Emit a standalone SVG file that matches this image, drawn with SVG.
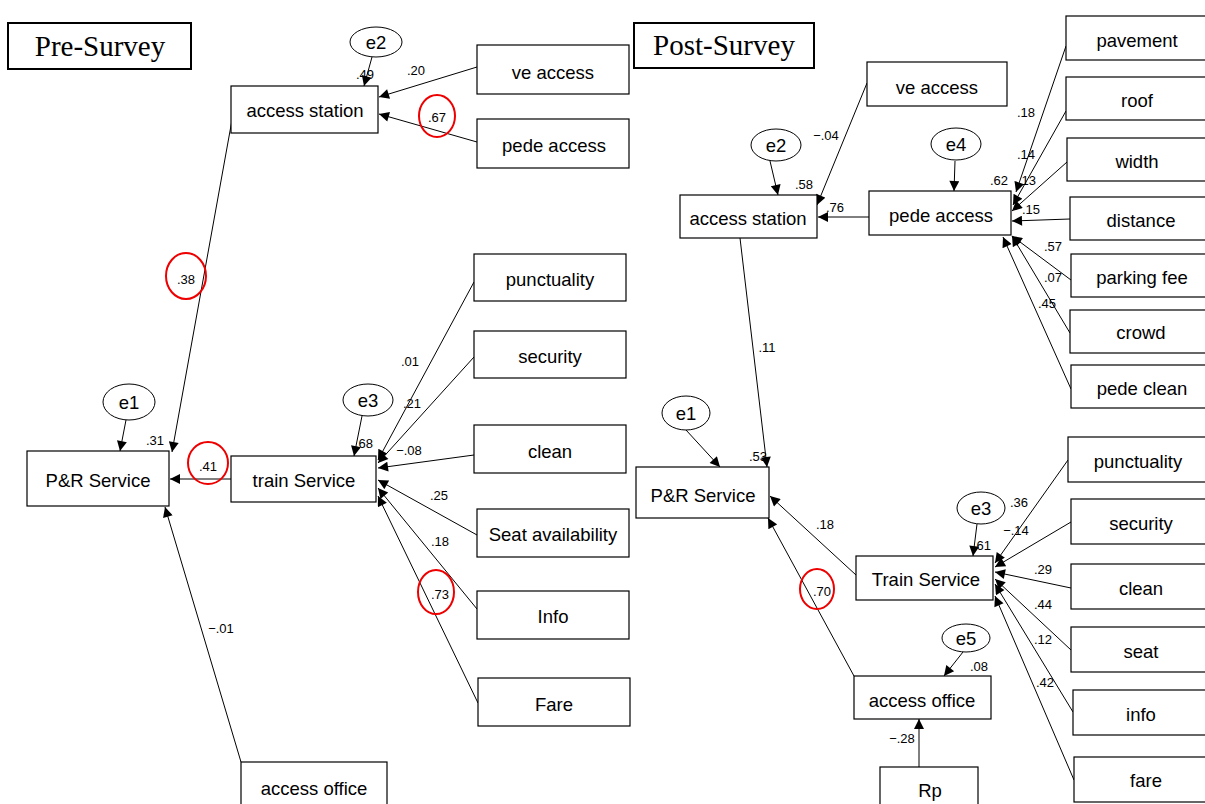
<svg xmlns="http://www.w3.org/2000/svg" width="1205" height="804" viewBox="0 0 1205 804">
<defs>
<marker id="ah" viewBox="0 0 10 10" refX="10" refY="5" markerWidth="12" markerHeight="10" markerUnits="userSpaceOnUse" orient="auto"><path d="M0,0 L10,5 L0,10 z" fill="#000"/></marker>
</defs>
<style>
.box{fill:#fff;stroke:#000;stroke-width:1.2}
.ell{fill:#fff;stroke:#000;stroke-width:1}
.t{font-family:"Liberation Sans","Noto Sans",Arial,sans-serif;font-size:18.5px;text-anchor:middle;dominant-baseline:central;fill:#000}
.title{font-family:"Liberation Serif","Times New Roman",serif;font-size:29px;text-anchor:middle;dominant-baseline:central;fill:#000}
.tb{fill:#fff;stroke:#000;stroke-width:2}
.n{font-family:"Liberation Sans","Noto Sans",Arial,sans-serif;font-size:13px;text-anchor:middle;dominant-baseline:central;fill:#000}
.c line{stroke:#000;stroke-width:1;marker-end:url(#ah)}
.red{fill:none;stroke:#e00;stroke-width:2}
</style>
<rect width="1205" height="804" fill="#fff"/>

<!-- connectors -->
<g id="connectors" class="c">
<!-- pre -->
<line x1="372" y1="57" x2="364" y2="86"/>
<line x1="477" y1="67" x2="379" y2="97"/>
<line x1="477" y1="142" x2="379" y2="114"/>
<line x1="232" y1="120" x2="172" y2="452"/>
<line x1="126" y1="420" x2="120" y2="451"/>
<line x1="231" y1="479" x2="170" y2="479"/>
<line x1="362" y1="416" x2="354" y2="456"/>
<line x1="474" y1="282" x2="378" y2="460"/>
<line x1="474" y1="357" x2="378" y2="463"/>
<line x1="474" y1="455" x2="378" y2="468"/>
<line x1="477" y1="535" x2="378" y2="480"/>
<line x1="477" y1="609" x2="378" y2="488"/>
<line x1="478" y1="703" x2="378" y2="496"/>
<line x1="241" y1="762" x2="165" y2="507"/>
<!-- post -->
<line x1="770" y1="161" x2="778" y2="195"/>
<line x1="867" y1="83" x2="817" y2="205"/>
<line x1="869" y1="217" x2="818" y2="217"/>
<line x1="955" y1="161" x2="954" y2="191"/>
<line x1="1066" y1="46" x2="1016" y2="192"/>
<line x1="1066" y1="111" x2="1013" y2="205"/>
<line x1="1067" y1="162" x2="1012" y2="211"/>
<line x1="1070" y1="219" x2="1012" y2="221"/>
<line x1="1071" y1="280" x2="1012" y2="236"/>
<line x1="1070" y1="333" x2="1012" y2="236"/>
<line x1="1071" y1="389" x2="1003" y2="237"/>
<line x1="740" y1="238" x2="767" y2="467"/>
<line x1="686" y1="430" x2="720" y2="467"/>
<line x1="856" y1="575" x2="770" y2="496"/>
<line x1="854" y1="676" x2="768" y2="518"/>
<line x1="977" y1="524" x2="973" y2="556"/>
<line x1="963" y1="652" x2="944" y2="676"/>
<line x1="919" y1="767" x2="919" y2="719"/>
<line x1="1068" y1="460" x2="995" y2="563"/>
<line x1="1071" y1="522" x2="995" y2="567"/>
<line x1="1071" y1="588" x2="995" y2="572"/>
<line x1="1071" y1="650" x2="995" y2="579"/>
<line x1="1073" y1="712" x2="995" y2="584"/>
<line x1="1074" y1="780" x2="995" y2="596"/>
</g>

<!-- Pre-survey nodes -->
<g id="pre-title"><rect class="tb" x="8" y="23" width="183" height="46"/><text class="title" x="100" y="46">Pre-Survey</text></g>
<g id="pre-e2"><ellipse class="ell" cx="376" cy="42" rx="26" ry="15"/><text class="t" x="376" y="42">e2</text></g>
<g id="pre-access-station"><rect class="box" x="231" y="86" width="147" height="47"/><text class="t" x="305" y="110">access station</text></g>
<g id="pre-ve-access"><rect class="box" x="477" y="45" width="152" height="49"/><text class="t" x="553" y="72">ve access</text></g>
<g id="pre-pede-access"><rect class="box" x="477" y="119" width="152" height="49"/><text class="t" x="554" y="145">pede access</text></g>
<g id="pre-e1"><ellipse class="ell" cx="129" cy="402" rx="26" ry="18"/><text class="t" x="129" y="402">e1</text></g>
<g id="pre-pr-service"><rect class="box" x="27" y="451" width="142" height="55"/><text class="t" x="98" y="480">P&amp;R Service</text></g>
<g id="pre-train-service"><rect class="box" x="231" y="456" width="145" height="46"/><text class="t" x="304" y="480">train Service</text></g>
<g id="pre-e3"><ellipse class="ell" cx="368" cy="400" rx="25" ry="16"/><text class="t" x="368" y="400">e3</text></g>
<g id="pre-punctuality"><rect class="box" x="474" y="254" width="152" height="47"/><text class="t" x="550" y="279">punctuality</text></g>
<g id="pre-security"><rect class="box" x="474" y="331" width="152" height="47"/><text class="t" x="550" y="356">security</text></g>
<g id="pre-clean"><rect class="box" x="474" y="425" width="152" height="48"/><text class="t" x="550" y="451">clean</text></g>
<g id="pre-seat"><rect class="box" x="477" y="509" width="152" height="48"/><text class="t" x="553" y="534">Seat availability</text></g>
<g id="pre-info"><rect class="box" x="477" y="591" width="152" height="48"/><text class="t" x="553" y="616">Info</text></g>
<g id="pre-fare"><rect class="box" x="478" y="678" width="152" height="48"/><text class="t" x="554" y="704">Fare</text></g>
<g id="pre-access-office"><rect class="box" x="241" y="762" width="146" height="48"/><text class="t" x="314" y="788">access office</text></g>

<!-- Post-survey nodes -->
<g id="post-title"><rect class="tb" x="634" y="23" width="180" height="45"/><text class="title" x="724" y="45">Post-Survey</text></g>
<g id="post-ve-access"><rect class="box" x="867" y="62" width="140" height="44"/><text class="t" x="937" y="87">ve access</text></g>
<g id="post-e2"><ellipse class="ell" cx="776" cy="145" rx="25" ry="16"/><text class="t" x="776" y="145">e2</text></g>
<g id="post-access-station"><rect class="box" x="680" y="195" width="137" height="43"/><text class="t" x="748" y="218">access station</text></g>
<g id="post-pede-access"><rect class="box" x="869" y="191" width="142" height="44"/><text class="t" x="941" y="215">pede access</text></g>
<g id="post-e4"><ellipse class="ell" cx="956" cy="144" rx="25" ry="16"/><text class="t" x="956" y="144">e4</text></g>
<g id="post-pavement"><rect class="box" x="1066" y="16" width="142" height="44"/><text class="t" x="1137" y="40">pavement</text></g>
<g id="post-roof"><rect class="box" x="1066" y="77" width="142" height="43"/><text class="t" x="1137" y="100">roof</text></g>
<g id="post-width"><rect class="box" x="1067" y="138" width="142" height="43"/><text class="t" x="1137" y="161">width</text></g>
<g id="post-distance"><rect class="box" x="1070" y="197" width="142" height="43"/><text class="t" x="1141" y="220">distance</text></g>
<g id="post-parking-fee"><rect class="box" x="1071" y="254" width="142" height="43"/><text class="t" x="1142" y="277">parking fee</text></g>
<g id="post-crowd"><rect class="box" x="1070" y="310" width="142" height="43"/><text class="t" x="1141" y="332">crowd</text></g>
<g id="post-pede-clean"><rect class="box" x="1071" y="365" width="142" height="43"/><text class="t" x="1142" y="388">pede clean</text></g>
<g id="post-e1"><ellipse class="ell" cx="686" cy="413" rx="24" ry="17"/><text class="t" x="686" y="413">e1</text></g>
<g id="post-pr-service"><rect class="box" x="636" y="467" width="133" height="51"/><text class="t" x="703" y="495">P&amp;R Service</text></g>
<g id="post-train-service"><rect class="box" x="856" y="556" width="137" height="44"/><text class="t" x="926" y="579">Train Service</text></g>
<g id="post-e3"><ellipse class="ell" cx="981" cy="508" rx="24" ry="16"/><text class="t" x="981" y="508">e3</text></g>
<g id="post-e5"><ellipse class="ell" cx="966" cy="638" rx="24" ry="14"/><text class="t" x="966" y="638">e5</text></g>
<g id="post-access-office"><rect class="box" x="854" y="676" width="137" height="43"/><text class="t" x="922" y="700">access office</text></g>
<g id="post-rp"><rect class="box" x="880" y="767" width="98" height="42"/><text class="t" x="930" y="790">Rp</text></g>
<g id="post-punctuality"><rect class="box" x="1068" y="437" width="142" height="45"/><text class="t" x="1138" y="461">punctuality</text></g>
<g id="post-security"><rect class="box" x="1071" y="499" width="142" height="45"/><text class="t" x="1141" y="523">security</text></g>
<g id="post-clean"><rect class="box" x="1071" y="564" width="142" height="45"/><text class="t" x="1141" y="588">clean</text></g>
<g id="post-seat"><rect class="box" x="1071" y="627" width="142" height="45"/><text class="t" x="1141" y="651">seat</text></g>
<g id="post-info"><rect class="box" x="1073" y="690" width="142" height="45"/><text class="t" x="1141" y="714">info</text></g>
<g id="post-fare"><rect class="box" x="1074" y="757" width="142" height="45"/><text class="t" x="1146" y="780">fare</text></g>

<!-- labels -->
<g id="labels">
<text class="n" x="365" y="74">.49</text>
<text class="n" x="416" y="70">.20</text>
<text class="n" x="437" y="117">.67</text>
<text class="n" x="186" y="279">.38</text>
<text class="n" x="155" y="440">.31</text>
<text class="n" x="208" y="466">.41</text>
<text class="n" x="364" y="443">.68</text>
<text class="n" x="410" y="361">.01</text>
<text class="n" x="412" y="403">.21</text>
<text class="n" x="409" y="450">−.08</text>
<text class="n" x="439" y="495">.25</text>
<text class="n" x="440" y="541">.18</text>
<text class="n" x="440" y="594">.73</text>
<text class="n" x="221" y="628">−.01</text>
<text class="n" x="804" y="184">.58</text>
<text class="n" x="826" y="135">−.04</text>
<text class="n" x="835" y="207">.76</text>
<text class="n" x="999" y="180">.62</text>
<text class="n" x="1026" y="112">.18</text>
<text class="n" x="1026" y="154">.14</text>
<text class="n" x="1027" y="180">.13</text>
<text class="n" x="1031" y="209">.15</text>
<text class="n" x="1053" y="246">.57</text>
<text class="n" x="1053" y="277">.07</text>
<text class="n" x="1047" y="303">.45</text>
<text class="n" x="767" y="347">.11</text>
<text class="n" x="758" y="456">.53</text>
<text class="n" x="825" y="524">.18</text>
<text class="n" x="822" y="591">.70</text>
<text class="n" x="982" y="545">.61</text>
<text class="n" x="979" y="666">.08</text>
<text class="n" x="902" y="738">−.28</text>
<text class="n" x="1019" y="502">.36</text>
<text class="n" x="1016" y="530">−.14</text>
<text class="n" x="1043" y="569">.29</text>
<text class="n" x="1043" y="604">.44</text>
<text class="n" x="1043" y="639">.12</text>
<text class="n" x="1045" y="682">.42</text>
</g>

<!-- red highlight circles -->
<g id="highlights">
<ellipse class="red" cx="437" cy="116" rx="18" ry="21"/>
<ellipse class="red" cx="186" cy="276" rx="20" ry="23"/>
<ellipse class="red" cx="208" cy="463" rx="20" ry="21"/>
<ellipse class="red" cx="436" cy="592" rx="18" ry="22"/>
<ellipse class="red" cx="817" cy="589" rx="17" ry="20"/>
</g>
</svg>
